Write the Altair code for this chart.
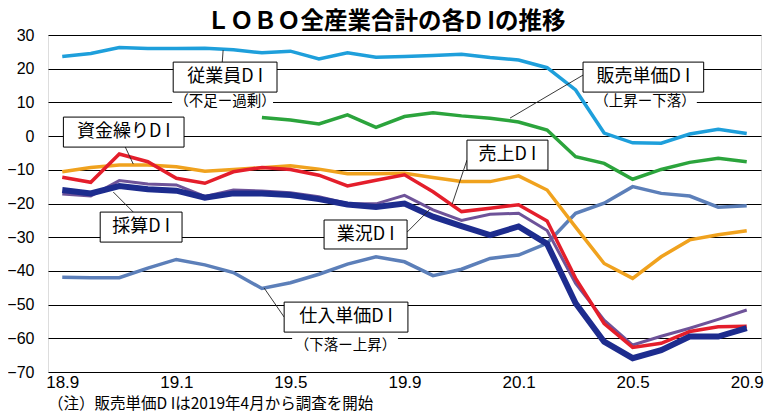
import altair as alt
import pandas as pd

# ---- data (monthly, 2018.9 .. 2020.9) ----
months = list(range(25))
x_tick_pos = [0, 4, 8, 12, 16, 20, 24]
x_tick_labels = ["18.9", "19.1", "19.5", "19.9", "20.1", "20.5", "20.9"]
y_ticks = [-70, -60, -50, -40, -30, -20, -10, 0, 10, 20, 30]

employees = [23.6, 24.5, 26.3, 26.0, 26.0, 26.1, 25.6, 24.7, 25.2, 22.9, 24.7, 23.4, 23.6,
             23.9, 24.3, 23.3, 22.6, 20.3, 13.7, 0.9, -2.0, -2.1, 0.6, 2.0, 0.8]
sales_price = [None] * 7 + [5.5, 4.8, 3.6, 6.3, 2.6, 5.8, 6.9, 6.0, 5.3, 4.2, 1.8, -6.1,
                            -8.1, -12.8, -9.9, -7.8, -6.6, -7.6]
funding = [-10.6, -9.3, -8.6, -8.6, -9.1, -10.4, -9.9, -9.4, -8.8, -9.8, -11.2, -11.2, -11.0,
           -12.3, -13.5, -13.5, -11.8, -16.0, -27.0, -37.8, -42.2, -35.8, -30.8, -29.3, -28.1]
sales = [-12.2, -13.7, -5.3, -7.6, -12.5, -14.0, -10.6, -9.3, -9.9, -11.6, -14.8, -13.1, -11.5,
         -16.5, -22.4, -21.4, -20.4, -25.2, -42.2, -55.6, -62.7, -61.5, -58.0, -56.6, -56.4]
profit = [-17.2, -17.8, -13.2, -14.2, -14.5, -17.9, -16.0, -16.3, -16.8, -18.0, -20.0, -20.1, -17.6,
          -21.9, -25.0, -23.2, -22.9, -28.0, -43.7, -54.6, -62.0, -59.4, -57.0, -54.4, -51.6]
business = [-16.0, -17.0, -14.8, -15.8, -16.2, -18.3, -17.0, -17.0, -17.5, -18.7, -20.3, -21.0, -20.0,
            -23.9, -26.7, -29.4, -26.8, -32.0, -49.6, -61.0, -65.9, -63.5, -59.5, -59.5, -57.0]
purchase = [-41.9, -42.0, -42.0, -39.2, -36.6, -38.2, -40.5, -45.2, -43.5, -41.0, -38.0, -35.8, -37.3,
            -41.4, -39.5, -36.3, -35.3, -31.8, -22.9, -19.9, -15.0, -17.0, -17.8, -21.1, -20.7]

series_names = ["仕入単価DI", "従業員DI", "販売単価DI", "資金繰りDI", "採算DI", "売上DI", "業況DI"]
series_values = [purchase, employees, sales_price, funding, profit, sales, business]
series_colors = ["#5C7FB9", "#1E9FDB", "#2BA43C", "#F0A21E", "#6E5399", "#E41E2B", "#1D2C8E"]
series_widths = [3.5, 3.5, 3.5, 3.5, 3, 3.5, 6]

# ---- annotations (data coordinates) ----
box_labels = ["従業員D I", "販売単価D I", "資金繰りD I", "採算D I", "業況D I", "売上D I", "仕入単価D I"]
box_x1 = [3.89, 18.26, 0.04, 1.33, 9.18, 14.19, 7.78]
box_x2 = [7.53, 22.49, 4.27, 4.20, 12.09, 17.03, 12.12]
box_y1 = [13.06, 13.06, -3.26, -31.45, -33.5, -10.09, -58.16]
box_y2 = [21.96, 21.96, 5.64, -22.55, -24.9, -1.19, -49.26]
lead_x1 = [5.61, 18.26, 2.21, 2.49, 12.09, 14.19, 7.08]
lead_y1 = [21.96, 18.1, -3.26, -22.55, -28.5, -7.12, -45.1]
lead_x2 = [5.64, 15.70, 2.49, 1.79, 12.89, 13.67, 7.78]
lead_y2 = [25.5, 5.34, -8.3, -16.6, -21.7, -20.2, -53.7]
sub_labels = ["（不足ー過剰）", "（上昇ー下落）", "（下落ー上昇）"]
sub_x = [5.71, 20.43, 9.93]
sub_y = [10.09, 10.09, -62.3]
sub_bg_x1 = [3.85, 18.43, 8.06]
sub_bg_x2 = [7.39, 22.25, 11.77]
sub_bg_y1 = [7.7, 7.7, -65.0]
sub_bg_y2 = [12.2, 12.2, -59.9]

title_text = "ＬＯＢＯ全産業合計の各D Iの推移"
note_text = "（注）販売単価D Iは2019年4月から調査を開始"

rows = []
for name, vals in zip(series_names, series_values):
    for m, v in zip(months, vals):
        if v is not None:
            rows.append({"series": name, "m": m, "v": v})
df = pd.DataFrame(rows)

boxes = pd.DataFrame({"label": box_labels, "x1": box_x1, "x2": box_x2, "y1": box_y1, "y2": box_y2,
                      "cx": [(a + b) / 2 for a, b in zip(box_x1, box_x2)],
                      "cy": [(a + b) / 2 for a, b in zip(box_y1, box_y2)],
                      "lx1": lead_x1, "ly1": lead_y1, "lx2": lead_x2, "ly2": lead_y2})
subs = pd.DataFrame({"label": sub_labels, "x": sub_x, "y": sub_y,
                     "x1": sub_bg_x1, "x2": sub_bg_x2, "y1": sub_bg_y1, "y2": sub_bg_y2})

xs = alt.Scale(domain=[-0.5, 24.5], nice=False, zero=False)
ys = alt.Scale(domain=[-70, 30], nice=False, zero=False)

label_arr = "[" + ",".join("'%s'" % s for s in x_tick_labels) + "]"
xax = alt.Axis(values=x_tick_pos, labelExpr=label_arr + "[round(datum.value/4)]", grid=False,
               ticks=False, domain=False, labelFont="Liberation Sans", labelFontSize=17,
               labelColor="black", labelPadding=2, title=None)
yax = alt.Axis(values=y_ticks, grid=True, gridColor="black", gridWidth=1, gridOpacity=1,
               ticks=False, domain=False, labelFont="Liberation Sans", labelFontSize=16,
               labelColor="black", labelPadding=14, title=None)


def X(f):
    return alt.X(f, type="quantitative", scale=xs, axis=xax)


def Y(f):
    return alt.Y(f, type="quantitative", scale=ys, axis=yax)


layers = []
# subtitle white backgrounds (cover gridlines)
layers.append(alt.Chart(subs).mark_rect(fill="white").encode(
    x=X("x1"), x2="x2", y=Y("y1"), y2="y2"))

for name, col, w in zip(series_names, series_colors, series_widths):
    layers.append(alt.Chart(df).transform_filter(alt.datum.series == name)
                  .mark_line(color=col, strokeWidth=w)
                  .encode(x=X("m"), y=Y("v"), order="m:Q"))

layers.append(alt.Chart(boxes).mark_rule(color="#222", strokeWidth=0.9).encode(
    x=X("lx1"), y=Y("ly1"), x2="lx2", y2="ly2"))
layers.append(alt.Chart(boxes).mark_rect(fill="white", stroke="black", strokeWidth=1).encode(
    x=X("x1"), x2="x2", y=Y("y1"), y2="y2"))
layers.append(alt.Chart(boxes).mark_text(font="Noto Sans CJK JP", fontSize=18, color="black",
                                         align="center", baseline="middle").encode(
    x=X("cx"), y=Y("cy"), text="label"))
layers.append(alt.Chart(subs).mark_text(font="Noto Sans CJK JP", fontSize=14.5, color="black",
                                        align="center", baseline="middle").encode(
    x=X("x"), y=Y("y"), text="label"))

layers.append(alt.Chart(pd.DataFrame({"t": [title_text]})).mark_text(
    font="Noto Sans CJK JP", fontSize=23.5, fontWeight="bold", color="black",
    align="center", baseline="middle").encode(
    x=alt.value(338), y=alt.value(-13), text="t"))
layers.append(alt.Chart(pd.DataFrame({"t": [note_text]})).mark_text(
    font="Noto Sans CJK JP", fontSize=15.5, color="black",
    align="left", baseline="middle").encode(
    x=alt.value(0), y=alt.value(369), text="t"))

chart = alt.layer(*layers).properties(
    width=713, height=337,
    padding={"left": 40, "top": 27, "right": 10, "bottom": 40},
    autosize=alt.AutoSizeParams(type="none"),
).configure_view(stroke="black", strokeWidth=1).configure(background="white")

chart.save("out.html", embed_options={"renderer": "svg", "actions": False})
